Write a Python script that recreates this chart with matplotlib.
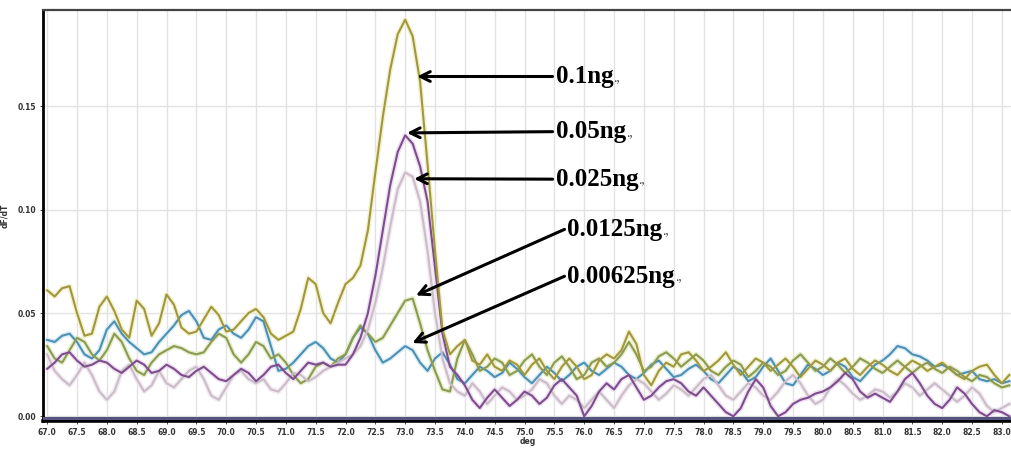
import numpy as np
import matplotlib
matplotlib.use("Agg")
import matplotlib.pyplot as plt

# ---------------- data ----------------
x_start, x_step = 67.0, 0.125
temps = [round(x_start + i * x_step, 3) for i in range(130)]

labels = ["0.1ng", "0.05ng", "0.025ng", "0.0125ng", "0.00625ng"]

s_01 = [
    0.061, 0.058, 0.062, 0.063, 0.050, 0.039, 0.040, 0.053,
    0.058, 0.051, 0.042, 0.038, 0.056, 0.052, 0.039, 0.045,
    0.059, 0.054, 0.043, 0.040, 0.041, 0.047, 0.053, 0.049,
    0.041, 0.042, 0.046, 0.050, 0.052, 0.048, 0.040, 0.037,
    0.039, 0.041, 0.052, 0.067, 0.064, 0.050, 0.045, 0.055,
    0.064, 0.067, 0.073, 0.090, 0.118, 0.145, 0.168, 0.185,
    0.192, 0.184, 0.162, 0.122, 0.080, 0.042, 0.030, 0.034,
    0.037, 0.027, 0.025, 0.030, 0.024, 0.022, 0.027, 0.025,
    0.020, 0.025, 0.028, 0.022, 0.018, 0.024, 0.028, 0.024,
    0.018, 0.020, 0.027, 0.030, 0.028, 0.032, 0.041, 0.035,
    0.020, 0.015, 0.022, 0.026, 0.024, 0.030, 0.031, 0.027,
    0.022, 0.024, 0.027, 0.031, 0.025, 0.020, 0.024, 0.028,
    0.026, 0.022, 0.025, 0.028, 0.024, 0.019, 0.023, 0.027,
    0.025, 0.022, 0.026, 0.028, 0.023, 0.020, 0.024, 0.027,
    0.025, 0.022, 0.020, 0.024, 0.027, 0.025, 0.022, 0.024,
    0.026, 0.023, 0.020, 0.018, 0.022, 0.024, 0.025, 0.020,
    0.016, 0.020,
]
s_005 = [
    0.023, 0.026, 0.030, 0.031, 0.027, 0.024, 0.025, 0.027,
    0.026, 0.023, 0.021, 0.024, 0.027, 0.025, 0.021, 0.022,
    0.025, 0.023, 0.020, 0.019, 0.022, 0.024, 0.021, 0.018,
    0.017, 0.020, 0.023, 0.021, 0.017, 0.020, 0.024, 0.025,
    0.021, 0.018, 0.022, 0.026, 0.025, 0.026, 0.024, 0.025,
    0.025, 0.030, 0.038, 0.050, 0.068, 0.090, 0.112, 0.128,
    0.136, 0.132, 0.121, 0.104, 0.072, 0.040, 0.024, 0.020,
    0.015, 0.008, 0.004, 0.009, 0.013, 0.009, 0.005, 0.008,
    0.012, 0.010, 0.006, 0.009, 0.015, 0.018, 0.014, 0.010,
    0.000, 0.005, 0.012, 0.016, 0.013, 0.018, 0.020, 0.014,
    0.008, 0.010, 0.014, 0.017, 0.018, 0.016, 0.012, 0.010,
    0.014, 0.010, 0.006, 0.002, 0.000, 0.004, 0.012, 0.018,
    0.014, 0.005, 0.000, 0.002, 0.006, 0.008, 0.009, 0.011,
    0.012, 0.014, 0.017, 0.021, 0.018, 0.012, 0.009, 0.011,
    0.009, 0.007, 0.012, 0.018, 0.021, 0.016, 0.010, 0.006,
    0.004, 0.008, 0.014, 0.011, 0.006, 0.002, 0.000, 0.003,
    0.002, 0.000,
]
s_0025 = [
    0.030, 0.022, 0.018, 0.015, 0.020, 0.026, 0.020, 0.012,
    0.008, 0.012, 0.022, 0.025, 0.018, 0.012, 0.015, 0.022,
    0.016, 0.014, 0.018, 0.022, 0.024, 0.018, 0.010, 0.008,
    0.014, 0.020, 0.022, 0.018, 0.016, 0.018, 0.013, 0.012,
    0.016, 0.021, 0.020, 0.017, 0.019, 0.022, 0.024, 0.026,
    0.028, 0.030, 0.034, 0.042, 0.055, 0.072, 0.092, 0.110,
    0.118, 0.116, 0.104, 0.080, 0.050, 0.028, 0.016, 0.012,
    0.010, 0.016, 0.012, 0.006, 0.010, 0.014, 0.012, 0.008,
    0.010, 0.013, 0.018, 0.016, 0.010, 0.006, 0.010, 0.008,
    0.004, 0.008, 0.012, 0.008, 0.004, 0.010, 0.015, 0.018,
    0.016, 0.012, 0.008, 0.011, 0.015, 0.013, 0.010, 0.014,
    0.018, 0.020, 0.015, 0.010, 0.008, 0.012, 0.016, 0.014,
    0.010, 0.008, 0.012, 0.017, 0.020, 0.016, 0.010, 0.006,
    0.008, 0.014, 0.018, 0.015, 0.011, 0.008, 0.010, 0.013,
    0.012, 0.009, 0.012, 0.016, 0.014, 0.010, 0.013, 0.016,
    0.013, 0.010, 0.007, 0.010, 0.014, 0.011, 0.005, 0.002,
    0.004, 0.006,
]
s_00125 = [
    0.034, 0.028, 0.026, 0.032, 0.038, 0.036, 0.030, 0.027,
    0.032, 0.040, 0.036, 0.028, 0.022, 0.020, 0.026, 0.030,
    0.032, 0.034, 0.033, 0.031, 0.030, 0.031, 0.036, 0.040,
    0.038, 0.030, 0.026, 0.030, 0.036, 0.034, 0.028, 0.030,
    0.026, 0.020, 0.016, 0.018, 0.024, 0.026, 0.024, 0.028,
    0.030, 0.038, 0.044, 0.040, 0.036, 0.038, 0.044, 0.050,
    0.056, 0.057, 0.045, 0.032, 0.022, 0.013, 0.012, 0.028,
    0.037, 0.030, 0.022, 0.024, 0.028, 0.026, 0.020, 0.022,
    0.027, 0.030, 0.024, 0.020, 0.026, 0.029, 0.024, 0.018,
    0.020, 0.026, 0.028, 0.024, 0.026, 0.030, 0.036, 0.030,
    0.022, 0.024, 0.029, 0.031, 0.028, 0.024, 0.027, 0.030,
    0.027, 0.022, 0.020, 0.024, 0.027, 0.025, 0.019, 0.022,
    0.026, 0.024, 0.020, 0.022, 0.027, 0.030, 0.026, 0.022,
    0.024, 0.028, 0.025, 0.021, 0.024, 0.028, 0.026, 0.023,
    0.021, 0.024, 0.027, 0.024, 0.021, 0.024, 0.026, 0.023,
    0.021, 0.024, 0.022, 0.019, 0.017, 0.020, 0.019, 0.016,
    0.014, 0.015,
]
s_000625 = [
    0.037, 0.036, 0.039, 0.040, 0.036, 0.030, 0.028, 0.032,
    0.042, 0.046, 0.040, 0.036, 0.033, 0.030, 0.031, 0.036,
    0.040, 0.044, 0.049, 0.051, 0.046, 0.038, 0.037, 0.042,
    0.044, 0.040, 0.038, 0.042, 0.048, 0.046, 0.034, 0.022,
    0.023, 0.026, 0.030, 0.034, 0.036, 0.033, 0.028, 0.026,
    0.030, 0.038, 0.043, 0.040, 0.032, 0.026, 0.028, 0.031,
    0.034, 0.032, 0.026, 0.022, 0.028, 0.031, 0.025, 0.018,
    0.016, 0.020, 0.024, 0.022, 0.019, 0.021, 0.026, 0.023,
    0.019, 0.016, 0.020, 0.024, 0.021, 0.017, 0.020, 0.024,
    0.026, 0.022, 0.020, 0.023, 0.026, 0.024, 0.020, 0.018,
    0.021, 0.025, 0.027, 0.023, 0.019, 0.020, 0.023, 0.025,
    0.022, 0.018, 0.016, 0.020, 0.024, 0.022, 0.017, 0.019,
    0.024, 0.028, 0.022, 0.016, 0.015, 0.020, 0.025, 0.023,
    0.020, 0.022, 0.026, 0.024, 0.019, 0.017, 0.021, 0.025,
    0.027, 0.030, 0.034, 0.033, 0.030, 0.029, 0.027, 0.024,
    0.025, 0.023, 0.020, 0.021, 0.022, 0.018, 0.017, 0.018,
    0.016, 0.017,
]
threshold = -0.0008

x_ticks = [67.0 + 0.5 * i for i in range(33)]
y_ticks = [0.00, 0.05, 0.10, 0.15]

# annotation anchors (text position, arrow target) in data coords
text_pos = [(75.52, 0.1645), (75.52, 0.1378), (75.52, 0.1148), (75.72, 0.0905), (75.72, 0.0678)]
arrow_to = [(73.2, 0.1645), (73.03, 0.1372), (73.15, 0.1150), (73.18, 0.0585), (73.12, 0.0355)]

# ---------------- plot ----------------
fig = plt.figure(figsize=(10.12, 4.54), dpi=100)
ax = fig.add_axes([0.0425, 0.073, 0.9575, 0.905])

colors = ["#9f9842", "#7d4e8c", "#cbbdc8", "#8c9b52", "#4f8fb0"]
halo = ["#f4f1cc", "#efdff2", "#f1eaf0", "#e7eed0", "#d9eef7"]
series = [s_01, s_005, s_0025, s_00125, s_000625]
order = [4, 3, 2, 1, 0]
for i in order:
    ax.plot(temps, series[i], color=halo[i], lw=3.6, solid_capstyle="round", zorder=2)
for i in order:
    ax.plot(temps, series[i], color=colors[i], lw=1.5, zorder=3)

ax.axhline(threshold, color="#55557f", lw=2.2, zorder=4)

ax.set_xlim(66.93, 83.17)
ax.set_ylim(-0.0022, 0.1967)
ax.set_xticks(x_ticks)
ax.set_xticklabels([f"{t:.1f}" for t in x_ticks])
ax.set_yticks(y_ticks)
ax.set_yticklabels([f"{t:.2f}" for t in y_ticks])
ax.tick_params(axis="both", labelsize=5.5, length=2, width=0.6, colors="#333333", pad=3)
for lab in ax.get_xticklabels() + ax.get_yticklabels():
    lab.set_fontweight("bold")

ax.grid(True, color="#e2e2e2", lw=1.0, zorder=0)
ax.set_axisbelow(True)

ax.spines["left"].set_linewidth(2.0)
ax.spines["left"].set_color("black")
ax.spines["bottom"].set_linewidth(2.6)
ax.spines["bottom"].set_color("black")
ax.spines["top"].set_linewidth(1.6)
ax.spines["top"].set_color("#444444")
ax.spines["right"].set_visible(False)

ax.set_xlabel("deg", fontsize=5.5, fontweight="bold", labelpad=0, color="#333333")
ax.set_ylabel("dF/dT", fontsize=5.5, fontweight="bold", labelpad=6, color="#333333")

for lab, tp, ap in zip(labels, text_pos, arrow_to):
    t = ax.text(tp[0], tp[1], lab, fontsize=18, fontweight="bold",
                family="Liberation Serif", va="center", ha="left", zorder=6)
    ax.annotate(".,", xy=(1.0, 0.18), xycoords=t, fontsize=10, color="#444444",
                va="bottom", ha="left", family="Liberation Serif")
    ax.annotate("", xy=ap, xytext=(tp[0] - 0.05, tp[1]),
                arrowprops=dict(arrowstyle="->,head_length=0.7,head_width=0.35",
                                color="black", lw=2.2, shrinkA=0, shrinkB=0),
                zorder=6)

fig.savefig("out.png", dpi=100)
